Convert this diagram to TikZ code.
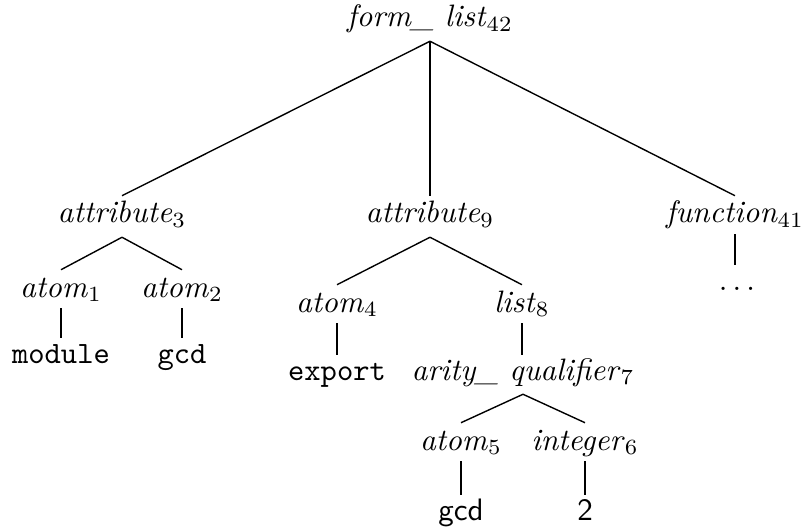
\documentclass[tikz,border=0pt]{standalone}
\begin{document}
\begin{tikzpicture}[x=0.3226pt, y=-0.3226pt,
        every node/.style={anchor=base, inner sep=2.6pt, text height=6pt, text depth=1.8pt},
        branch/.style={line width=0.45pt},
        stem/.style={line width=0.85pt, shorten <=-1pt, shorten >=-0.8pt}]
            \useasboundingbox (0,0) rectangle (802,531);
            % root
            \node (fl) at (430,27) {\textit{form\_ list}$_{42}$};
            % second level
            \node (a3) at (122,223) {\textit{attribute}$_{3}$};
            \node (a9) at (430,223) {\textit{attribute}$_{9}$};
            \node (f41) at (735,223) {\textit{function}$_{41}$};
            \node (dots) at (737,290) {$\dots$};
            % under attribute 3
            \node (at1) at (61,297) {\textit{atom}$_{1}$};
            \node (at2) at (182,297) {\textit{atom}$_{2}$};
            \node (mod) at (61,363) {\texttt{module}};
            \node (gcda) at (182,363) {\texttt{gcd}};
            % under attribute 9
            \node (at4) at (337,312) {\textit{atom}$_{4}$};
            \node (l8) at (522,312) {\textit{list}$_{8}$};
            \node (exp) at (337,380) {\texttt{export}};
            \node (aq7) at (523,380) {\textit{arity\_ qualifier}$_{7}$};
            \node (at5) at (461,450) {\textit{atom}$_{5}$};
            \node (in6) at (585,450) {\textit{integer}$_{6}$};
            \node (gcdb) at (461,520) {\textsf{gcd}};
            \node (two) at (585,520) {\textsf{2}};
            % edges
            \foreach \p/\c in {fl/a3, fl/a9, fl/f41, a3/at1, a3/at2, a9/at4, a9/l8, aq7/at5, aq7/in6} {
                \draw[branch] (\p.south) -- (\c.north);
            }
            \foreach \p/\c in {f41/dots, at1/mod, at2/gcda, at4/exp, l8/aq7, at5/gcdb, in6/two} {
                \draw[stem] (\p.south) -- (\p.south |- \c.north);
            }
\end{tikzpicture}
\end{document}
